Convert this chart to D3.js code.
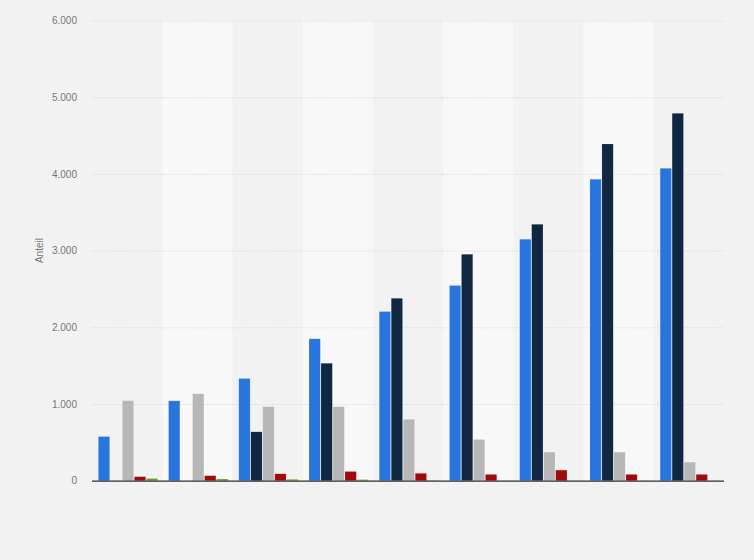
<!DOCTYPE html>
<html>
<head>
  <title>Anteil</title>
  <script src="https://d3js.org/d3.v7.min.js"></script>
  <style>
    body { margin: 0; background: #f2f2f2; }
  </style>
</head>
<body>
  <div id="chart"></div>

  <script>
    // groups have no visible labels in the reference
    const groups = ["G1", "G2", "G3", "G4", "G5", "G6", "G7", "G8", "G9"];
    const seriesNames = ["Reihe 1", "Reihe 2", "Reihe 3", "Reihe 4", "Reihe 5"];
    const seriesColors = ["#2876dd", "#0f2740", "#b7b7b7", "#a10a0a", "#6c9a1c"];

    const series1 = [575, 1041, 1332, 1850, 2205, 2545, 3148, 3930, 4073];
    const series2 = [0, 0, 637, 1531, 2378, 2952, 3343, 4390, 4790];
    const series3 = [1043, 1133, 965, 965, 800, 537, 372, 372, 241];
    const series4 = [52, 65, 90, 120, 96, 82, 138, 82, 82];
    const series5 = [28, 22, 17, 14, 4, 3, 3, 2, 0];

    const yTicks = [0, 1000, 2000, 3000, 4000, 5000, 6000];
    const yLabel = "Anteil";

    const allSeries = [series1, series2, series3, series4, series5];

    const width = 754;
    const height = 560;
    const margin = { top: 20.5, right: 30, bottom: 79.3, left: 92 };

    const svg = d3.select("#chart")
      .append("svg")
      .attr("width", width)
      .attr("height", height)
      .style("font-family", "'Liberation Sans', Arial, sans-serif");

    svg.append("rect")
      .attr("width", width)
      .attr("height", height)
      .attr("fill", "#f2f2f2");

    const x0 = d3.scaleBand()
      .domain(groups)
      .range([margin.left, width - margin.right]);

    const x1 = d3.scaleBand()
      .domain(seriesNames)
      .range([6, 66])
      .paddingInner(0.06)
      .paddingOuter(0.03);

    const y = d3.scaleLinear()
      .domain([0, 6000])
      .range([height - margin.bottom, margin.top]);

    // alternating column bands
    svg.append("g")
      .selectAll("rect")
      .data(groups.filter((g, i) => i % 2 === 1))
      .join("rect")
      .attr("x", d => x0(d))
      .attr("y", margin.top)
      .attr("width", x0.bandwidth())
      .attr("height", height - margin.bottom - margin.top)
      .attr("fill", "#f8f8f8");

    // grid lines
    const yAxis = d3.axisLeft(y)
      .tickValues(yTicks)
      .tickSize(-(width - margin.left - margin.right))
      .tickPadding(15)
      .tickFormat(d => d3.format(",")(d).replace(/,/g, "."));

    const yg = svg.append("g")
      .attr("transform", `translate(${margin.left}, 0)`)
      .call(yAxis);
    yg.select(".domain").remove();
    yg.selectAll(".tick line")
      .attr("stroke", "#d6d6d6")
      .attr("stroke-dasharray", "1,1.5");
    yg.selectAll(".tick text")
      .attr("fill", "#777")
      .style("font-size", "10px")
      .style("font-family", "'Liberation Sans', Arial, sans-serif");

    svg.append("text")
      .attr("transform", `translate(43, ${(margin.top + height - margin.bottom) / 2}) rotate(-90)`)
      .attr("text-anchor", "middle")
      .attr("fill", "#777")
      .style("font-size", "10px")
      .text(yLabel);

    // bars
    const barData = [];
    groups.forEach((g, gi) => {
      seriesNames.forEach((s, si) => {
        barData.push({ group: g, series: s, value: allSeries[si][gi], color: seriesColors[si] });
      });
    });

    svg.append("g")
      .selectAll("rect")
      .data(barData)
      .join("rect")
      .attr("x", d => x0(d.group) + x1(d.series))
      .attr("y", d => y(d.value))
      .attr("width", x1.bandwidth())
      .attr("height", d => y(0) - y(d.value))
      .attr("fill", d => d.color)
      .attr("stroke", "rgba(255,255,255,0.2)")
      .attr("stroke-width", 0.6);

    // baseline
    svg.append("line")
      .attr("x1", margin.left)
      .attr("x2", width - margin.right)
      .attr("y1", y(0) + 0.5)
      .attr("y2", y(0) + 0.5)
      .attr("stroke", "#333")
      .attr("stroke-width", 1.2);
  </script>
</body>
</html>
